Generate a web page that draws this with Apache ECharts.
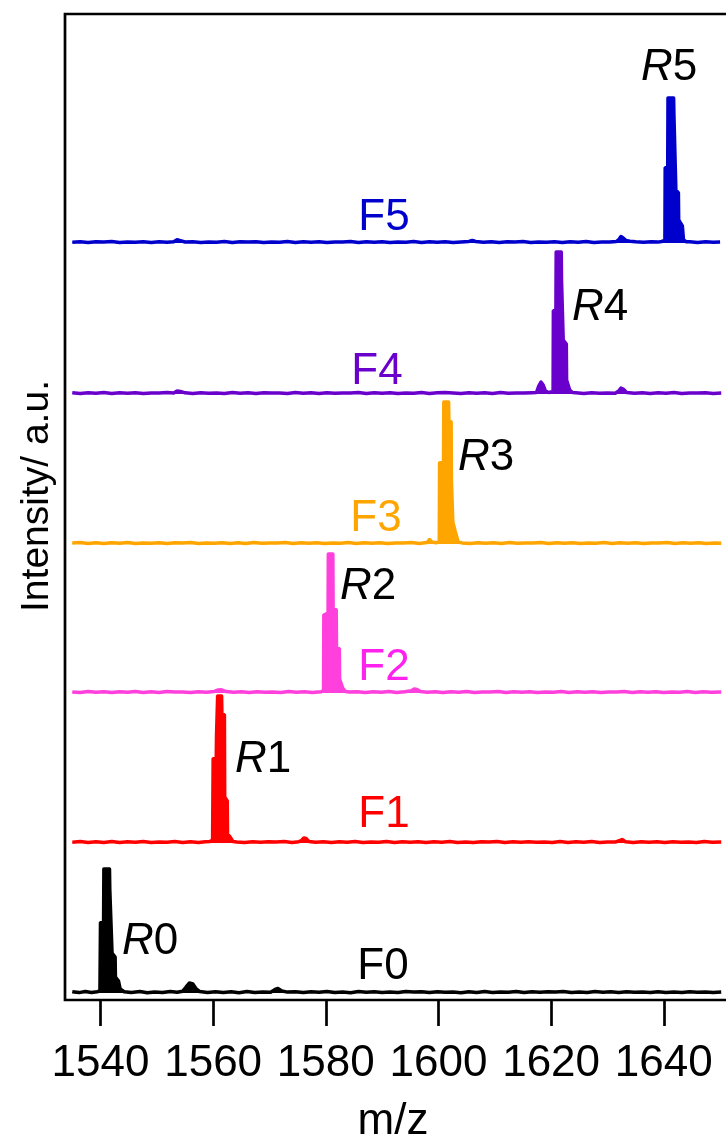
<!DOCTYPE html>
<html>
<head>
<meta charset="utf-8">
<script src="https://cdn.jsdelivr.net/npm/echarts@6/dist/echarts.min.js"></script>
<style>
  html, body { margin: 0; padding: 0; background: #fff; }
  #chart { width: 726px; height: 1144px; }
</style>
</head>
<body>
<div id="chart"></div>
<script>
// MALDI spectra of fractions F0-F5, stacked with vertical offsets.
// Each spectrum is a list of [m/z, intensity (a.u.)] points.

const mzTicks = [1540, 1560, 1580, 1600, 1620, 1640];
const traceNames = ['F0', 'F1', 'F2', 'F3', 'F4', 'F5'];
const peakNames = ['0', '1', '2', '3', '4', '5'];
const traceOffsets = [7, 157, 307, 456, 606, 757];

const f0Spectrum = [
  [1535.0,1.2],[1536.2,0.4],[1537.3,1.5],[1538.4,0.6],[1539.4,1.3],[1539.9,2],
  [1540.0,70],[1540.55,72],[1540.6,124],[1541.6,124],[1541.65,104],[1542.0,103],
  [1542.05,40],[1542.6,36],[1542.65,16],[1543.2,12],[1543.5,4],[1544.2,1.2],
  [1545.5,0.5],[1547.0,1.4],[1548.3,0.3],[1549.6,1.1],[1551.0,0.4],[1552.4,1.6],
  [1553.6,0.8],[1554.6,1.8],[1555.2,6],[1555.8,10],[1556.4,9],[1557.0,4],[1557.6,1.5],
  [1559.0,0.6],[1560.4,1.3],[1561.8,0.5],[1563.2,1.2],[1564.6,0.3],[1566.0,1.4],
  [1567.4,0.6],[1568.8,1.1],[1570.2,0.8],[1571.0,3.5],[1571.5,4.5],[1572.2,2],
  [1573.2,0.9],[1574.6,1.3],[1576.0,0.4],[1577.4,1.2],[1578.8,0.7],[1580.2,1.5],
  [1581.6,0.5],[1583.0,1.0],[1584.4,0.3],[1585.8,1.4],[1587.2,0.8],[1588.6,1.2],
  [1590.0,0.4],[1591.4,1.1],[1592.8,0.6],[1594.2,1.5],[1595.6,0.9],[1597.0,1.3],
  [1598.4,0.4],[1599.8,1.2],[1601.2,0.7],[1602.6,1.0],[1604.0,0.3],[1605.4,1.3],
  [1606.8,0.6],[1608.2,1.4],[1609.6,0.5],[1611.0,1.1],[1612.4,0.8],[1613.8,1.5],
  [1615.2,0.4],[1616.6,1.2],[1618.0,0.7],[1619.4,1.3],[1620.8,0.9],[1622.2,1.6],
  [1623.6,0.5],[1625.0,1.1],[1626.4,0.6],[1627.8,1.4],[1629.2,0.8],[1630.6,1.2],
  [1632.0,0.5],[1633.4,1.3],[1634.8,0.7],[1636.2,1.0],[1637.6,0.4],[1639.0,1.2],
  [1640.4,0.6],[1641.8,1.1],[1643.2,0.5],[1644.6,1.3],[1646.0,0.8],[1647.4,1.1],
  [1648.8,0.4],[1650.2,0.9]
];

const f1Spectrum = [
  [1535.0,0.8],[1536.4,1.5],[1537.8,0.5],[1539.2,1.3],[1540.6,0.6],[1542.0,1.4],
  [1543.4,0.4],[1544.8,1.2],[1546.2,0.7],[1547.6,1.6],[1549.0,0.5],[1550.4,1.1],
  [1551.8,0.8],[1553.2,1.4],[1554.6,0.5],[1556.0,1.3],[1557.4,0.6],[1558.6,1.2],
  [1559.4,1.5],[1559.9,2.5],[1560.0,84],[1560.55,86],[1560.6,108],[1560.75,108],
  [1560.8,147],[1561.5,147],[1561.55,130],[1562.0,128],[1562.05,46],[1562.5,42],
  [1562.55,9],[1563.0,6],[1563.5,1.5],
  [1564.2,1.1],[1565.6,0.5],[1567.0,1.3],[1568.4,0.7],[1569.8,1.2],[1571.2,0.9],
  [1572.6,1.5],[1574.0,0.6],[1575.2,1.3],[1575.7,2.5],[1576.1,5],[1576.5,4.5],
  [1577.0,1.6],[1578.2,0.8],[1579.6,1.3],[1581.0,0.5],[1582.4,1.2],[1583.8,0.7],
  [1585.2,1.4],[1586.6,0.4],[1588.0,1.1],[1589.4,0.8],[1590.8,1.5],[1592.2,0.5],
  [1593.6,1.2],[1595.0,0.7],[1596.4,1.3],[1597.8,0.4],[1599.2,1.2],[1600.6,0.8],
  [1602.0,1.4],[1603.4,0.5],[1604.8,1.1],[1606.2,0.6],[1607.6,1.3],[1609.0,0.9],
  [1610.4,1.5],[1611.8,0.4],[1613.2,1.2],[1614.6,0.7],[1616.0,1.3],[1617.4,0.8],
  [1618.8,1.1],[1620.2,0.5],[1621.6,1.4],[1623.0,0.6],[1624.4,1.2],[1625.8,0.8],
  [1627.2,1.5],[1628.6,0.5],[1630.0,1.1],[1631.4,0.9],[1632.2,2.5],[1632.6,3.5],
  [1633.2,1.2],[1634.6,0.6],[1636.0,1.3],[1637.4,0.7],[1638.8,1.2],[1640.2,0.4],
  [1641.6,1.3],[1643.0,0.8],[1644.4,1.1],[1645.8,0.5],[1647.2,1.4],[1648.6,0.7],
  [1650.2,1.0]
];

const f2Spectrum = [
  [1535.0,1.1],[1536.4,0.5],[1537.8,1.4],[1539.2,0.7],[1540.6,1.2],[1542.0,0.4],
  [1543.4,1.3],[1544.8,0.8],[1546.2,1.5],[1547.6,0.6],[1549.0,1.2],[1550.4,0.5],
  [1551.8,1.4],[1553.2,0.9],[1554.6,1.1],[1556.0,0.6],[1557.4,1.3],[1558.8,0.8],
  [1560.2,1.6],[1560.9,3],[1561.5,3.2],[1562.3,1.4],[1563.6,0.7],[1565.0,1.2],
  [1566.4,0.5],[1567.8,1.3],[1569.2,0.8],[1570.6,1.1],[1572.0,0.6],[1573.4,1.4],
  [1574.8,0.7],[1576.2,1.2],[1577.6,0.5],[1578.6,1.1],
  [1579.2,1.2],[1579.6,2.5],[1579.65,78],[1580.4,80],[1580.45,139],[1581.25,139],
  [1581.3,85],[1581.85,83],[1581.9,46],[1582.4,44],[1582.45,14],[1583.0,5],[1583.5,1.5],
  [1584.2,0.9],[1585.6,1.3],[1587.0,0.6],[1588.4,1.2],[1589.8,0.8],[1591.2,1.4],
  [1592.6,0.5],[1594.0,1.2],[1595.2,2.2],[1595.7,4],[1596.2,3.6],[1596.8,1.6],
  [1598.0,0.8],[1599.4,1.3],[1600.8,0.5],[1602.2,1.2],[1603.6,0.7],[1605.0,1.4],
  [1606.4,0.6],[1607.8,1.1],[1609.2,0.9],[1610.6,1.5],[1612.0,0.4],[1613.4,1.2],
  [1614.8,0.8],[1616.2,1.3],[1617.6,0.6],[1619.0,1.1],[1620.4,0.7],[1621.8,1.4],
  [1623.2,0.5],[1624.6,1.2],[1626.0,0.8],[1627.4,1.3],[1628.8,0.6],[1630.2,1.1],
  [1631.6,0.9],[1633.0,1.4],[1634.4,0.5],[1635.8,1.2],[1637.2,0.7],[1638.6,1.3],
  [1640.0,0.6],[1641.4,1.1],[1642.8,0.8],[1644.2,1.4],[1645.6,0.5],[1647.0,1.2],
  [1648.4,0.7],[1650.2,1.1]
];

const f3Spectrum = [
  [1535.0,0.9],[1536.4,1.4],[1537.8,0.6],[1539.2,1.2],[1540.6,0.5],[1542.0,1.3],
  [1543.4,0.8],[1544.8,1.5],[1546.2,0.4],[1547.6,1.1],[1549.0,0.7],[1550.4,1.3],
  [1551.8,0.6],[1553.2,1.2],[1554.6,0.9],[1556.0,1.4],[1557.4,0.5],[1558.8,1.1],
  [1560.2,0.8],[1561.6,1.3],[1563.0,0.6],[1564.4,1.2],[1565.8,0.5],[1567.2,1.4],
  [1568.6,0.7],[1570.0,1.1],[1571.4,0.9],[1572.8,1.5],[1574.2,0.5],[1575.6,1.2],
  [1577.0,0.8],[1578.4,1.3],[1579.8,0.6],[1581.2,1.1],[1582.6,0.7],[1584.0,1.4],
  [1585.4,0.5],[1586.8,1.2],[1588.2,0.8],[1589.6,1.3],[1591.0,0.6],[1592.4,1.1],
  [1593.8,0.9],[1595.2,1.4],[1596.6,0.6],[1597.6,1.3],
  [1598.0,1.5],[1598.4,4.5],[1598.8,2],[1599.6,1.2],[1600.15,2.5],[1600.2,81],
  [1600.9,82],[1600.95,142],[1601.8,142],[1601.85,124],[1602.25,122],[1602.3,64],
  [1602.5,62],[1602.55,22],[1603.0,12],[1603.5,2],
  [1604.2,1.1],[1605.6,0.6],[1607.0,1.3],[1608.4,0.8],[1609.8,1.2],[1611.2,0.5],
  [1612.6,1.4],[1614.0,0.7],[1615.4,1.1],[1616.8,0.9],[1618.2,1.5],[1619.6,0.5],
  [1621.0,1.2],[1622.4,0.8],[1623.8,1.3],[1625.2,0.6],[1626.6,1.1],[1628.0,0.7],
  [1629.4,1.4],[1630.8,0.5],[1632.2,1.2],[1633.6,0.8],[1635.0,1.3],[1636.4,0.6],
  [1637.8,1.1],[1639.2,0.9],[1640.6,1.4],[1642.0,0.5],[1643.4,1.2],[1644.8,0.7],
  [1646.2,1.3],[1647.6,0.6],[1649.0,1.1],[1650.2,0.8]
];

const f4Spectrum = [
  [1535.0,1.2],[1536.4,0.6],[1537.8,1.3],[1539.2,0.8],[1540.6,1.4],[1542.0,0.5],
  [1543.4,1.2],[1544.8,0.7],[1546.2,1.3],[1547.6,0.6],[1549.0,1.1],[1550.4,0.9],
  [1551.8,1.5],[1553.0,1.0],[1553.6,3],[1554.2,2.6],[1555.0,1.2],[1556.4,0.6],
  [1557.8,1.3],[1559.2,0.8],[1560.6,1.1],[1562.0,0.5],[1563.4,1.4],[1564.8,0.7],
  [1566.2,1.2],[1567.6,0.6],[1569.0,1.3],[1570.4,0.9],[1571.8,1.1],[1573.2,0.5],
  [1574.6,1.4],[1576.0,0.8],[1577.4,1.2],[1578.8,0.6],[1580.2,1.3],[1581.6,0.7],
  [1583.0,1.1],[1584.4,0.9],[1585.8,1.5],[1587.2,0.5],[1588.6,1.2],[1590.0,0.8],
  [1591.4,1.3],[1592.8,0.6],[1594.2,1.1],[1595.6,0.7],[1597.0,1.4],[1598.4,0.5],
  [1599.8,1.2],[1601.2,1.6],[1602.6,1.1],[1604.0,0.6],[1605.4,1.3],[1606.8,0.8],
  [1608.2,1.2],[1609.6,0.5],[1611.0,1.4],[1612.4,0.7],[1613.8,1.1],[1615.2,0.9],
  [1616.6,1.3],
  [1617.4,1.5],[1617.8,8],[1618.2,12],[1618.6,9],[1619.0,3],[1619.6,1.5],
  [1620.35,2.5],[1620.4,83],[1620.85,85],[1620.9,142],[1621.8,142],[1621.85,114],
  [1622.1,112],[1622.15,54],[1622.7,50],[1622.75,14],[1623.3,4],[1623.8,1.5],
  [1624.4,1.2],[1625.8,0.6],[1627.2,1.3],[1628.6,0.8],[1630.0,1.1],[1631.4,0.7],
  [1632.0,3],[1632.4,6],[1632.8,5],[1633.4,1.5],[1634.8,0.8],[1636.2,1.3],
  [1637.6,0.6],[1639.0,1.2],[1640.4,0.8],[1641.8,1.4],[1643.2,0.5],[1644.6,1.1],
  [1646.0,0.9],[1647.4,1.3],[1648.8,0.6],[1650.2,1.0]
];

const f5Spectrum = [
  [1535.0,0.8],[1536.4,1.3],[1537.8,0.6],[1539.2,1.2],[1540.6,0.9],[1542.0,1.4],
  [1543.4,0.5],[1544.8,1.1],[1546.2,0.7],[1547.6,1.3],[1549.0,0.6],[1550.4,1.2],
  [1551.8,0.8],[1553.0,1.2],[1553.6,3.2],[1554.2,2.4],[1555.0,1.0],[1556.4,1.3],
  [1557.8,0.6],[1559.2,1.1],[1560.6,0.8],[1562.0,1.4],[1563.4,0.5],[1564.8,1.2],
  [1566.2,0.9],[1567.6,1.3],[1569.0,0.6],[1570.4,1.1],[1571.8,0.7],[1573.2,1.4],
  [1574.6,0.5],[1576.0,1.2],[1577.4,0.8],[1578.8,1.3],[1580.2,0.6],[1581.6,1.1],
  [1583.0,0.9],[1584.4,1.5],[1585.8,0.5],[1587.2,1.2],[1588.6,0.7],[1590.0,1.3],
  [1591.4,0.6],[1592.8,1.1],[1594.2,0.8],[1595.6,1.4],[1597.0,0.5],[1598.4,1.2],
  [1599.8,0.7],[1601.2,1.3],[1602.6,0.6],[1604.0,1.1],[1605.4,1.6],[1606.0,2.6],
  [1606.6,1.5],[1608.0,0.8],[1609.4,1.3],[1610.8,0.6],[1612.2,1.2],[1613.6,0.9],
  [1615.0,1.4],[1616.4,0.5],[1617.8,1.1],[1619.2,0.8],[1620.6,1.3],[1622.0,0.6],
  [1623.4,1.2],[1624.8,0.7],[1626.2,1.4],[1627.6,0.5],[1629.0,1.1],[1630.4,0.9],
  [1631.6,1.5],[1632.1,4],[1632.4,6.5],[1632.8,5],[1633.3,2.4],[1634.0,1.8],
  [1635.0,1.2],[1636.4,0.8],[1637.8,1.3],[1639.0,0.9],
  [1639.6,1.5],[1640.2,2.5],[1640.25,75],[1640.7,77],[1640.75,145],[1641.75,145],
  [1641.8,129],[1642.1,127],[1642.15,53],[1642.6,50],[1642.65,23],[1643.3,17],
  [1643.5,3],[1644.0,1.2],
  [1644.6,1.2],[1646.0,0.6],[1647.4,1.3],[1648.8,0.8],[1650.0,1.1]
];

const spectra = [f0Spectrum, f1Spectrum, f2Spectrum, f3Spectrum, f4Spectrum, f5Spectrum];
const traceColors = ['#000000', '#ff0000', '#ff40dc', '#ffa500', '#6a00cc', '#0000cc'];
const labelColors = ['#000000', '#ff0000', '#ff22ee', '#ffa500', '#6a00cc', '#0000cc'];

const FONT = '"Liberation Sans", Arial, Helvetica, sans-serif';

// name label and peak label anchors (pixels)
const nameAnchors = [[383, 967], [384, 815], [384, 668], [376, 519], [377, 372], [384, 218]];
const peakAnchors = [[150, 942], [263, 760], [368, 587], [486, 458], [600, 308], [669, 68]];

const chart = echarts.init(document.getElementById('chart'), null, { renderer: 'canvas' });

const series = spectra.map((pts, i) => ({
  name: traceNames[i],
  type: 'line',
  data: pts.map(p => [p[0], p[1] + traceOffsets[i]]),
  showSymbol: false,
  symbol: 'none',
  sampling: 'none',
  z: 2 + i,
  lineStyle: { color: traceColors[i], width: 3.5, join: 'round' },
  areaStyle: { color: traceColors[i], opacity: 1, origin: traceOffsets[i] }
}));

const graphic = [];
traceNames.forEach((name, i) => {
  graphic.push({
    type: 'text', x: nameAnchors[i][0], y: nameAnchors[i][1], z: 100,
    style: {
      text: name, fill: labelColors[i], fontSize: 44, fontFamily: FONT,
      align: 'center', verticalAlign: 'middle'
    }
  });
  graphic.push({
    type: 'text', x: peakAnchors[i][0], y: peakAnchors[i][1], z: 100,
    style: {
      text: '{i|R}{n|' + peakNames[i] + '}', fill: '#000', fontSize: 44, fontFamily: FONT,
      align: 'center', verticalAlign: 'middle',
      rich: {
        i: { fontStyle: 'italic', fontSize: 44, fontFamily: FONT, fill: '#000' },
        n: { fontSize: 44, fontFamily: FONT, fill: '#000' }
      }
    }
  });
});
graphic.push({
  type: 'text', x: 393, y: 1122, z: 100,
  style: { text: 'm/z', fill: '#000', fontSize: 44, fontFamily: FONT, align: 'center', verticalAlign: 'middle' }
});
graphic.push({
  type: 'text', x: 37, y: 496, rotation: Math.PI / 2, z: 100,
  style: { text: 'Intensity/ a.u.', fill: '#000', fontSize: 39, fontFamily: FONT, align: 'center', verticalAlign: 'middle' }
});

chart.setOption({
  animation: false,
  backgroundColor: '#ffffff',
  grid: {
    left: 65, right: -20, top: 14, bottom: 144,
    outerBoundsMode: 'none',
    containLabel: false,
    show: true, borderColor: '#000', borderWidth: 2.7, backgroundColor: 'transparent'
  },
  xAxis: {
    type: 'value', min: 1533.7, max: 1654.6,
    axisLine: { show: false },
    splitLine: { show: false },
    axisTick: {
      show: true, inside: false, length: 26, customValues: mzTicks,
      lineStyle: { color: '#000', width: 2.7 }
    },
    axisLabel: {
      customValues: mzTicks, margin: 42, fontSize: 44, lineHeight: 44,
      color: '#000', fontFamily: FONT,
      hideOverlap: false, showMinLabel: true, showMaxLabel: true,
      formatter: v => String(v)
    }
  },
  yAxis: { type: 'value', min: 0, max: 986, show: false },
  series: series,
  graphic: graphic
});
</script>
</body>
</html>
